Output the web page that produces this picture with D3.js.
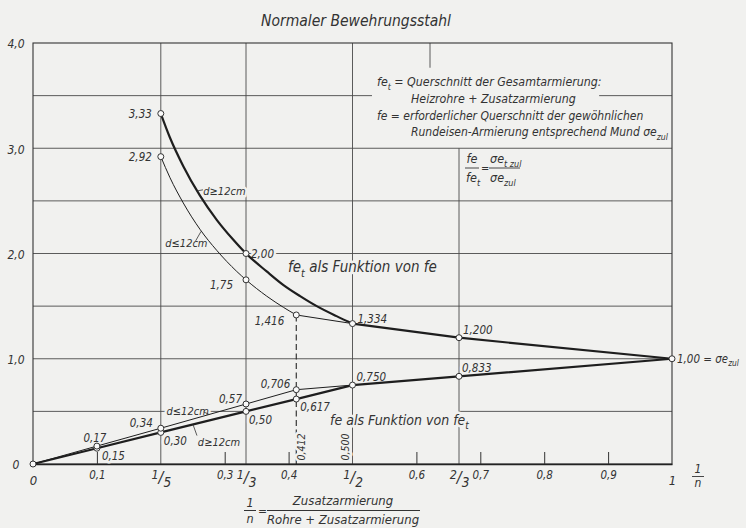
<!DOCTYPE html>
<html><head><meta charset="utf-8">
<script src="https://cdn.jsdelivr.net/npm/d3@7"></script>
<style>
html,body{margin:0;padding:0;background:#f1f1ef;}
svg{display:block;}
text{font-family:"Liberation Sans Narrow","DejaVu Sans Condensed","Liberation Sans",sans-serif;font-style:italic;fill:#333;}
</style></head><body>
<svg id="c" width="746" height="528"></svg>
<script>
// ---------------- DATA ----------------
const chartTitle = "Normaler Bewehrungsstahl";
const yTickValues = [0, 1, 2, 3, 4];
const yTickLabels = ["0", "1,0", "2,0", "3,0", "4,0"];
const xDecTicks = [0.1, 0.3, 0.4, 0.6, 0.7, 0.8, 0.9];
const xDecLabels = ["0,1", "0,3", "0,4", "0,6", "0,7", "0,8", "0,9"];
const xEndTicks = [0, 1];
const xEndLabels = ["0", "1"];
const xFracValues = [1/5, 1/3, 1/2, 2/3];
const xFracNum = ["1", "1", "1", "2"];
const xFracDen = ["5", "3", "2", "3"];

// fe_t als Funktion von fe  (upper curves)
const upThickX = [0.2, 0.2144, 0.2352, 0.2613, 0.2875, 0.3135, 1/3, 0.3657, 0.392, 0.418, 0.444, 0.475, 0.5];
const upThickY = [3.33, 3.10, 2.83, 2.55, 2.32, 2.13, 2.00, 1.83, 1.70, 1.595, 1.50, 1.405, 1.334];
const upThickTailX = [0.5, 2/3, 1];
const upThickTailY = [1.334, 1.200, 1.00];
const upThinX = [0.2, 0.2144, 0.2352, 0.2613, 0.2875, 0.3188, 1/3, 0.3657, 0.392, 0.412];
const upThinY = [2.92, 2.72, 2.48, 2.23, 2.03, 1.83, 1.75, 1.595, 1.488, 1.416];
const upThinTailX = [0.412, 0.5];
const upThinTailY = [1.416, 1.334];

// fe als Funktion von fe_t (lower lines)
const loThickX = [0, 0.1, 0.2, 1/3, 0.412, 0.5, 2/3, 1];
const loThickY = [0, 0.15, 0.30, 0.50, 0.617, 0.750, 0.833, 1.00];
const loThinX = [0, 0.1, 0.2, 1/3, 0.412, 0.5];
const loThinY = [0, 0.17, 0.34, 0.57, 0.706, 0.750];

// marked points and their labels
const upMarkX = [0.2, 0.2, 1/3, 1/3, 0.412, 0.5, 2/3, 1];
const upMarkY = [3.33, 2.92, 2.00, 1.75, 1.416, 1.334, 1.200, 1.00];
const upMarkLabels = ["3,33", "2,92", "2,00", "1,75", "1,416", "1,334", "1,200", "1,00"];
const loMarkX = [0, 0.1, 0.1, 0.2, 0.2, 1/3, 1/3, 0.412, 0.412, 0.5, 2/3];
const loMarkY = [0, 0.15, 0.17, 0.30, 0.34, 0.50, 0.57, 0.617, 0.706, 0.750, 0.833];
const loMarkLabels = ["", "0,15", "0,17", "0,30", "0,34", "0,50", "0,57", "0,617", "0,706", "0,750", "0,833"];
const dashX = 0.412;
const dashTop = 1.416;

// ---------------- LAYOUT ----------------
const W = 746, H = 528;
const BG = "#f1f1ef", INK = "#262626", GRID = "#4a4a4a";
const svg = d3.select("#c");
svg.append("rect").attr("width", W).attr("height", H).attr("fill", BG);

const x = d3.scaleLinear().domain([0, 1]).range([33, 672]);
const y = d3.scaleLinear().domain([0, 4]).range([464, 43]);

// grid segments [value, from, to] in data units
const hGrid = [[0.5, 0, 1/3], [0.5, 2/3, 1], [1, 0, 1], [1.5, 0, 1], [2, 0, 1], [2.5, 0, 1], [3, 0, 1],
               [3.5, 0, 0.5305], [3.5, 0.886, 1]];
const vGrid = [[0.2, 0, 4], [1/3, 0, 4], [0.5, 0, 4], [2/3, 0, 3], [0.6213, 3.765, 4]];

const g = svg.append("g");
g.selectAll(".hg").data(hGrid).join("line")
  .attr("x1", d => x(d[1])).attr("x2", d => x(d[2]))
  .attr("y1", d => y(d[0])).attr("y2", d => y(d[0]))
  .attr("stroke", GRID).attr("stroke-width", 0.9);
g.selectAll(".vg").data(vGrid).join("line")
  .attr("x1", d => x(d[0])).attr("x2", d => x(d[0]))
  .attr("y1", d => y(d[1])).attr("y2", d => y(d[2]))
  .attr("stroke", GRID).attr("stroke-width", 0.9);

// frame
svg.append("rect").attr("x", x(0)).attr("y", y(4)).attr("width", x(1) - x(0)).attr("height", y(0) - y(4))
  .attr("fill", "none").attr("stroke", "#333").attr("stroke-width", 1.1);

// dashed line at 0.412
svg.append("line").attr("x1", x(dashX)).attr("x2", x(dashX)).attr("y1", y(0)).attr("y2", y(dashTop))
  .attr("stroke", INK).attr("stroke-width", 1.1).attr("stroke-dasharray", "6,3.5");

// x axis decimal ticks (pointing up)
const axB = svg.append("g").attr("transform", `translate(0,${y(0)})`)
  .call(d3.axisBottom(x).tickValues(xDecTicks).tickFormat((d, i) => xDecLabels[i])
    .tickSizeInner(-12).tickSizeOuter(0).tickPadding(6.5));
axB.attr("font-family", null);
axB.select(".domain").attr("stroke", "#222").attr("stroke-width", 1.6);
axB.selectAll(".tick line").attr("stroke", "#333").attr("stroke-width", 1);
axB.selectAll(".tick text").attr("font-size", 11.5).attr("fill", "#333");

// x axis end labels
const axE = svg.append("g").attr("transform", `translate(0,${y(0)})`)
  .call(d3.axisBottom(x).tickValues(xEndTicks).tickFormat((d, i) => xEndLabels[i]).tickSize(0).tickPadding(12));
axE.attr("font-family", null);
axE.select(".domain").remove();
axE.selectAll(".tick text").attr("font-size", 13).attr("fill", "#333");

// x axis fraction labels
const axF = svg.append("g").attr("transform", `translate(0,${y(0)})`)
  .call(d3.axisBottom(x).tickValues(xFracValues).tickFormat("").tickSize(0));
axF.attr("font-family", null);
axF.select(".domain").remove();
axF.selectAll(".tick").each(function(d, i) {
  const t = d3.select(this).select("text").attr("y", 19).attr("dy", null).attr("font-size", 16).attr("fill", "#333");
  t.append("tspan").text(xFracNum[i]).attr("font-size", 12.5).attr("dy", -4);
  t.append("tspan").text("/").attr("dy", 4);
  t.append("tspan").text(xFracDen[i]).attr("font-size", 13.5).attr("dy", 4);
});

// y axis
const axL = svg.append("g").attr("transform", `translate(${x(0)},0)`)
  .call(d3.axisLeft(y).tickValues(yTickValues).tickFormat((d, i) => yTickLabels[i]).tickSize(0).tickPadding(17));
axL.attr("font-family", null);
axL.select(".domain").remove();
axL.selectAll(".tick text").attr("font-size", 12).attr("fill", "#333").attr("text-anchor", "middle").attr("dy", "0.4em");

// helper for rich text (subscripts)
function rich(sel, parts, size) {
  let shift = 0;
  parts.forEach(p => {
    const s = p[0], k = p[1] || "n";
    const target = k === "sub" ? size * 0.3 : 0;
    const t = sel.append("tspan").text(s).attr("dy", target - shift);
    if (k === "sub") t.attr("font-size", size * 0.72);
    shift = target;
  });
  return sel;
}
function halo(sel) {
  return sel.attr("stroke", BG).attr("stroke-width", 5).attr("stroke-linejoin", "round").attr("paint-order", "stroke");
}

// Title
svg.append("text").attr("x", 356).attr("y", 26).attr("text-anchor", "middle").attr("font-size", 15.5).text(chartTitle);

// Legend text block
const lg = svg.append("g");
rich(lg.append("text").attr("x", 377).attr("y", 86).attr("font-size", 12.3),
  [["fe"], ["t", "sub"], [" = Querschnitt  der  Gesamtarmierung:"]], 12.3);
lg.append("text").attr("x", 411).attr("y", 103).attr("font-size", 12.3).text("Heizrohre + Zusatzarmierung");
lg.append("text").attr("x", 377).attr("y", 120).attr("font-size", 12).text("fe = erforderlicher Querschnitt der gewöhnlichen");
rich(lg.append("text").attr("x", 411).attr("y", 136).attr("font-size", 12),
  [["Rundeisen-Armierung entsprechend Mund σe"], ["zul", "sub"]], 12);

// Formula fe/fe_t = σe_t zul / σe_zul
const fm = svg.append("g").attr("font-size", 12.5);
fm.append("text").attr("x", 472).attr("y", 163).attr("text-anchor", "middle").text("fe");
rich(fm.append("text").attr("x", 466).attr("y", 182), [["fe"], ["t", "sub"]], 12.5);
fm.append("line").attr("x1", 465).attr("x2", 479).attr("y1", 168).attr("y2", 168).attr("stroke", "#333").attr("stroke-width", 0.9);
fm.append("text").attr("x", 481).attr("y", 172).attr("font-size", 11).text("=");
rich(fm.append("text").attr("x", 490).attr("y", 163), [["σe"], ["t zul", "sub"]], 12.5);
rich(fm.append("text").attr("x", 490).attr("y", 182), [["σe"], ["zul", "sub"]], 12.5);
fm.append("line").attr("x1", 489).attr("x2", 520).attr("y1", 168).attr("y2", 168).attr("stroke", "#333").attr("stroke-width", 0.9);

// Curve captions
rich(halo(svg.append("text").attr("x", 288).attr("y", 272).attr("font-size", 15)),
  [["fe"], ["t", "sub"], [" als  Funktion  von  fe"]], 15);
rich(halo(svg.append("text").attr("x", 330).attr("y", 425).attr("font-size", 14)),
  [["fe als Funktion von fe"], ["t", "sub"]], 14);

// rotated dimension labels
halo(svg.append("text").attr("transform", `translate(${x(dashX) + 9},${y(0) - 17}) rotate(-90)`)
  .attr("text-anchor", "middle").attr("font-size", 10.5).text("0,412"));
halo(svg.append("text").attr("transform", `translate(${x(0.5) - 4},${y(0) - 17}) rotate(-90)`)
  .attr("text-anchor", "middle").attr("font-size", 10.5).text("0,500"));

// point labels
const upPos = [[-9, 4, "end"], [-9, 4, "end"], [5, 4, "start"], [-13, 9, "end"], [-12, 10, "end"], [5, -1, "start"], [4, -4, "start"], [5, 4, "start"]];
const loPos = [[0, 0, "start"], [5, 12, "start"], [-2, -4, "middle"], [3, 13, "start"], [-8, -1, "end"], [3, 13, "start"], [-4, -1, "end"], [4, 12, "start"], [-6, -2, "end"], [4, -4, "start"], [3, -4, "start"]];
upMarkLabels.forEach((lab, i) => {
  const t = halo(svg.append("text").attr("x", x(upMarkX[i]) + upPos[i][0]).attr("y", y(upMarkY[i]) + upPos[i][1])
    .attr("text-anchor", upPos[i][2]).attr("font-size", 11.5));
  if (i === upMarkLabels.length - 1) rich(t, [[lab + " = σe"], ["zul", "sub"]], 11.5);
  else t.text(lab);
});
loMarkLabels.forEach((lab, i) => {
  if (!lab) return;
  halo(svg.append("text").attr("x", x(loMarkX[i]) + loPos[i][0]).attr("y", y(loMarkY[i]) + loPos[i][1])
    .attr("text-anchor", loPos[i][2]).attr("font-size", 11.5).text(lab));
});

// d labels with leaders: [text, labelX, labelY (data), leader from (data), leader to (data)]
const dLabels = [
  ["d≥12cm", 0.2665, 2.555, [0.257, 2.595], [0.266, 2.605]],
  ["d≤12cm", 0.207, 2.06, [0.2545, 2.12], [0.263, 2.21]],
  ["d≤12cm", 0.209, 0.465, [0.267, 0.495], [0.275, 0.473]],
  ["d≥12cm", 0.258, 0.17, [0.2504, 0.375], [0.2566, 0.27]]
];
dLabels.forEach(d => {
  halo(svg.append("text").attr("x", x(d[1])).attr("y", y(d[2])).attr("font-size", 11).text(d[0]));
});

// curves
const lineMono = d3.line().x(d => x(d[0])).y(d => y(d[1])).curve(d3.curveMonotoneX);
const lineLin = d3.line().x(d => x(d[0])).y(d => y(d[1]));
const zip = (a, b) => a.map((v, i) => [v, b[i]]);
const curves = [
  [lineMono(zip(upThickX, upThickY)), 2.2],
  [lineLin(zip(upThickTailX, upThickTailY)), 2.2],
  [lineMono(zip(upThinX, upThinY)), 1.0],
  [lineLin(zip(upThinTailX, upThinTailY)), 1.0],
  [lineLin(zip(loThickX, loThickY)), 2.2],
  [lineLin(zip(loThinX, loThinY)), 1.0]
];
curves.forEach(c => svg.append("path").attr("d", c[0]).attr("fill", "none").attr("stroke", "#1e1e1e")
  .attr("stroke-width", c[1]).attr("stroke-linejoin", "round"));

// leaders
dLabels.forEach(d => {
  svg.append("line").attr("x1", x(d[3][0])).attr("y1", y(d[3][1])).attr("x2", x(d[4][0])).attr("y2", y(d[4][1]))
    .attr("stroke", "#333").attr("stroke-width", 0.8);
});

// markers
const marks = zip(upMarkX, upMarkY).concat(zip(loMarkX, loMarkY));
svg.selectAll(".mk").data(marks).join("circle").attr("cx", d => x(d[0])).attr("cy", d => y(d[1])).attr("r", 3)
  .attr("fill", "#fafafa").attr("stroke", "#333").attr("stroke-width", 1);

// right "1/n" label
const rn = svg.append("g").attr("font-size", 12);
rn.append("text").attr("x", 698).attr("y", 473).attr("text-anchor", "middle").text("1");
rn.append("line").attr("x1", 692).attr("x2", 704).attr("y1", 476.5).attr("y2", 476.5).attr("stroke", "#333").attr("stroke-width", 0.9);
rn.append("text").attr("x", 698).attr("y", 487).attr("text-anchor", "middle").text("n");

// bottom axis title: 1/n = Zusatzarmierung / (Rohre + Zusatzarmierung)
const bt = svg.append("g").attr("font-size", 13);
bt.append("text").attr("x", 250).attr("y", 507).attr("text-anchor", "middle").attr("font-size", 12.5).text("1");
bt.append("line").attr("x1", 244).attr("x2", 256).attr("y1", 510.5).attr("y2", 510.5).attr("stroke", "#333").attr("stroke-width", 1);
bt.append("text").attr("x", 250).attr("y", 523).attr("text-anchor", "middle").attr("font-size", 12.5).text("n");
bt.append("text").attr("x", 258).attr("y", 514.5).attr("font-size", 12).text("=");
bt.append("text").attr("x", 343).attr("y", 505).attr("text-anchor", "middle").text("Zusatzarmierung");
bt.append("line").attr("x1", 267).attr("x2", 420).attr("y1", 510.5).attr("y2", 510.5).attr("stroke", "#333").attr("stroke-width", 1);
bt.append("text").attr("x", 343).attr("y", 524).attr("text-anchor", "middle").text("Rohre + Zusatzarmierung");
</script>
</body></html>
